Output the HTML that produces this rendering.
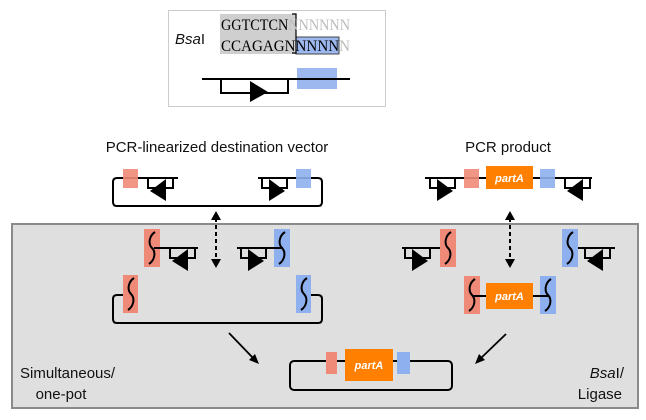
<!DOCTYPE html>
<html><head><meta charset="utf-8"><style>
html,body{margin:0;padding:0;background:#fff;}
svg{display:block;}
.t{font-family:"Liberation Sans",sans-serif;font-size:15px;fill:#111;}
.p{font-family:"Liberation Sans",sans-serif;font-size:11px;font-style:italic;font-weight:bold;fill:#fff;}
.s{font-family:"Liberation Serif",serif;font-size:16px;}
</style></head><body>
<svg width="646" height="420" viewBox="0 0 646 420" xmlns="http://www.w3.org/2000/svg">
<defs>
<g id="pr"><path d="M0,0 V10 H25 V0" fill="none" stroke="#000" stroke-width="2"/><polygon points="7,1 7,23 23,13" fill="#000"/></g>
<g id="pl"><path d="M0,0 V10 H-25 V0" fill="none" stroke="#000" stroke-width="2"/><polygon points="-7,1 -7,23 -23,13" fill="#000"/></g>
</defs>
<!-- top inset -->
<rect x="168.5" y="10.5" width="217" height="96" fill="#fff" stroke="#ccc"/>
<text x="175" y="44" class="t" style="font-style:italic;font-size:15px">Bsa<tspan font-style="normal">I</tspan></text>
<rect x="220" y="14" width="76" height="40" fill="#cfcfcf"/>
<rect x="296" y="37" width="43" height="17" fill="#9db8ee" stroke="#444" stroke-width="1"/>
<path d="M292,14 H296 V53 H292" fill="none" stroke="#000" stroke-width="1.2"/>
<text x="221" y="30" class="s" fill="#000" textLength="129" lengthAdjust="spacingAndGlyphs">GGTCTCN<tspan fill="#bbb">NNNNNN</tspan></text>
<text x="221" y="51" class="s" fill="#000" textLength="129" lengthAdjust="spacingAndGlyphs">CCAGAGNNNNN<tspan fill="#bbb">N</tspan></text>
<rect x="297" y="68" width="40" height="21" fill="#9db8ee"/>
<line x1="202" y1="79" x2="350" y2="79" stroke="#000" stroke-width="2"/>
<path d="M221,79 V93 H288 V79" fill="none" stroke="#000" stroke-width="2"/>
<polygon points="250,81 250,102 268,92" fill="#000"/>

<!-- titles -->
<text x="217" y="152" class="t" text-anchor="middle">PCR-linearized destination vector</text>
<text x="508" y="152" class="t" text-anchor="middle">PCR product</text>

<!-- gray panel -->
<rect x="12" y="224" width="626" height="184" fill="#dfdfdf" stroke="#8a8a8a" stroke-width="2"/>

<!-- left top vector -->
<path d="M178,178 H117 Q113,178 113,182 V202 Q113,206 117,206 H318 Q322,206 322,202 V182 Q322,178 318,178 H258" fill="none" stroke="#000" stroke-width="2"/>
<rect x="123" y="169" width="15" height="19" fill="#f08a78" opacity="0.9"/>
<rect x="296" y="169" width="15" height="19" fill="#8fb0ee" opacity="0.9"/>
<use href="#pl" x="173" y="178"/>
<use href="#pr" x="262" y="178"/>

<!-- dashed arrows -->
<g stroke="#000" stroke-width="2" stroke-dasharray="4,3"><line x1="216" y1="218" x2="216" y2="262"/><line x1="510" y1="218" x2="510" y2="262"/></g>
<polygon points="216,211 211,220 221,220" fill="#000"/><polygon points="216,268 211,259 221,259" fill="#000"/>
<polygon points="510,211 505,220 515,220" fill="#000"/><polygon points="510,268 505,259 515,259" fill="#000"/>

<!-- mid left pieces -->
<rect x="144" y="229" width="16" height="38" fill="#f08a78"/>
<rect x="274" y="229" width="16" height="38" fill="#8fb0ee"/>
<line x1="154" y1="248" x2="198" y2="248" stroke="#000" stroke-width="2"/>
<line x1="237" y1="248" x2="283" y2="248" stroke="#000" stroke-width="2"/>
<use href="#pl" x="195" y="248"/>
<use href="#pr" x="241" y="248"/>
<!-- lower left vector -->
<path d="M127,295 H117 Q113,295 113,299 V319 Q113,323 117,323 H318 Q322,323 322,319 V299 Q322,295 318,295 H307" fill="none" stroke="#000" stroke-width="2"/>
<rect x="123" y="275" width="15" height="38" fill="#f08a78"/>
<rect x="296" y="275" width="15" height="38" fill="#8fb0ee"/>

<!-- right top product -->
<line x1="425" y1="178" x2="592" y2="178" stroke="#000" stroke-width="2"/>
<use href="#pr" x="430" y="178"/>
<use href="#pl" x="590" y="178"/>
<rect x="464" y="169" width="15" height="19" fill="#f08a78" opacity="0.9"/>
<rect x="540" y="169" width="15" height="19" fill="#8fb0ee" opacity="0.9"/>
<rect x="486" y="166" width="47" height="23" fill="#ff7f00"/>
<text x="509.5" y="182" class="p" text-anchor="middle">partA</text>

<!-- mid right pieces -->
<line x1="402" y1="248" x2="448" y2="248" stroke="#000" stroke-width="2"/>
<use href="#pr" x="405" y="248"/>
<rect x="440" y="229" width="16" height="38" fill="#f08a78"/>
<line x1="570" y1="248" x2="615" y2="248" stroke="#000" stroke-width="2"/>
<use href="#pl" x="610" y="248"/>
<rect x="562" y="229" width="16" height="38" fill="#8fb0ee"/>
<!-- partA with overhangs -->
<rect x="464" y="276" width="16" height="38" fill="#f08a78"/>
<rect x="540" y="276" width="16" height="38" fill="#8fb0ee"/>
<line x1="472" y1="296" x2="548" y2="296" stroke="#000" stroke-width="2"/>
<rect x="486" y="283" width="47" height="26" fill="#ff7f00"/>
<text x="509.5" y="300" class="p" text-anchor="middle">partA</text>

<!-- curls -->
<g fill="none" stroke="#000" stroke-width="2">
<path d="M155,232 C149,236 148,244 152,248 C156,252 155,260 149,264"/>
<path d="M285,232 C279,236 278,244 282,248 C286,252 285,260 279,264"/>
<path d="M134,278 C128,282 127,290 131,294 C135,298 134,306 128,310"/>
<path d="M307,278 C301,282 300,290 304,294 C308,298 307,306 301,310"/>
<path d="M451,232 C445,236 444,244 448,248 C452,252 451,260 445,264"/>
<path d="M573,232 C567,236 566,244 570,248 C574,252 573,260 567,264"/>
<path d="M475,279 C469,283 468,291 472,295 C476,299 475,307 469,311"/>
<path d="M551,279 C545,283 544,291 548,295 C552,299 551,307 545,311"/>
</g>

<!-- arrows to result -->
<line x1="229" y1="333" x2="254" y2="359" stroke="#000" stroke-width="1.8"/>
<polygon points="259,364 249,360 255,354" fill="#000"/>
<line x1="506" y1="334" x2="480" y2="359" stroke="#000" stroke-width="1.8"/>
<polygon points="475,364 479,354 485,360" fill="#000"/>

<!-- final vector -->
<rect x="290" y="361" width="162" height="29" rx="4" fill="none" stroke="#000" stroke-width="2"/>
<rect x="326" y="352" width="11" height="22" fill="#f08a78"/>
<rect x="397" y="352" width="13" height="22" fill="#8fb0ee"/>
<rect x="345" y="349" width="48" height="32" fill="#ff7f00"/>
<text x="369" y="369" class="p" text-anchor="middle">partA</text>

<!-- side labels -->
<text x="20" y="378" class="t">Simultaneous/</text>
<text x="61" y="399" class="t" text-anchor="middle">one-pot</text>
<text x="624" y="378" class="t" text-anchor="end"><tspan font-style="italic">Bsa</tspan>I/</text>
<text x="622" y="399" class="t" text-anchor="end">Ligase</text>
</svg>
</body></html>
